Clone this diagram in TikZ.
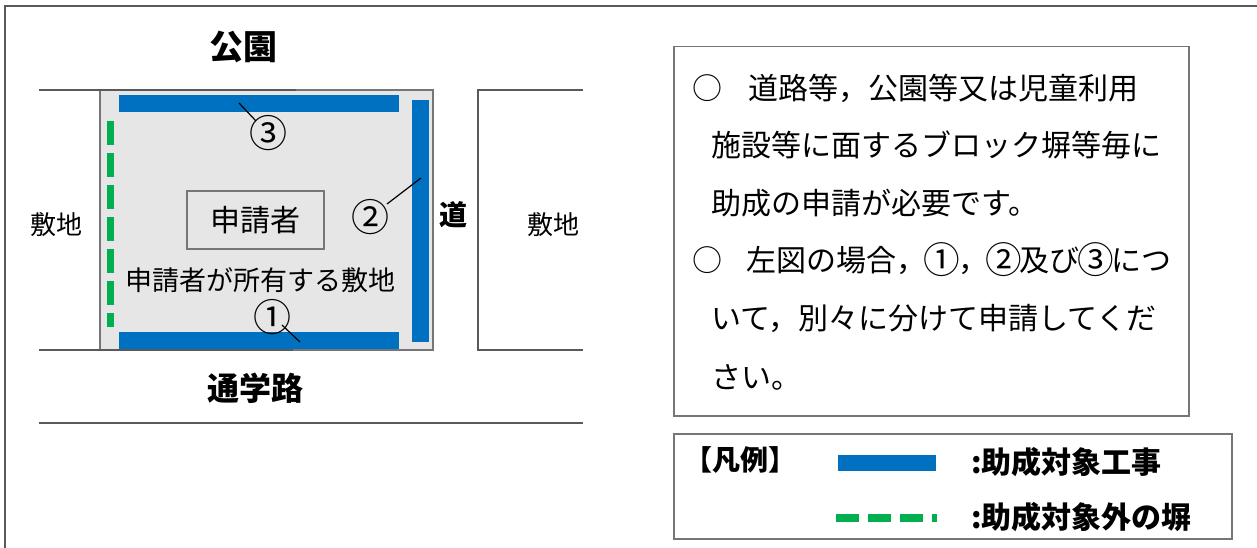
\documentclass[tikz,border=0pt]{standalone}
\usepackage{fontspec}
\usepackage{graphicx}
\usetikzlibrary{calc}
\newfontfamily\jp{Noto Sans CJK JP}
\newcommand\cnum[1]{\makebox[1.06em][c]{\raisebox{-0.08em}{\scalebox{1.22}{#1}}}}
\definecolor{wblue}{HTML}{0070C0}
\definecolor{wgreen}{HTML}{00B050}
\definecolor{lotfill}{HTML}{E7E6E6}
\definecolor{linegray}{HTML}{595959}
\definecolor{boxgray}{HTML}{767676}
\tikzset{
  frameline/.style={draw=linegray, line width=1.2pt},
  roadline/.style={draw=linegray, line width=2.5pt},
  lotbox/.style={fill=lotfill, draw=boxgray, line width=2pt},
  bluebar/.style={fill=wblue},
  greendash/.style={draw=wgreen, line width=7pt, dash pattern=on 24pt off 8pt},
  legdash/.style={draw=wgreen, line width=8pt, dash pattern=on 23pt off 9pt},
  leader/.style={draw=black, line width=1.2pt},
  txt/.style={inner sep=0pt, font=\jp\fontsize{#1}{#1}\selectfont},
  btxt/.style={inner sep=0pt, font=\jp\bfseries\fontsize{#1}{#1}\selectfont},
  textbox/.style={draw=boxgray, line width=1.5pt},
}
\begin{document}
\begin{tikzpicture}[x=1pt, y=-1pt]
\useasboundingbox (0,0) rectangle (1257,548);
% outer frame
\draw[frameline] (5,548) -- (5,6) -- (1257,6);
% lot
\path[lotbox] (100,90) rectangle (433,350);
% roads and neighbouring lots
\draw[roadline] (39,90) -- (296,90);
\draw[roadline] (39,350) -- (293,350);
\draw[roadline] (39,423) -- (583,423);
\draw[roadline] (583,90) -- (478,90) -- (478,350) -- (583,350);
% walls
\path[bluebar] (119,95) rectangle (399,112);
\path[bluebar] (119,332) rectangle (399,349);
\path[bluebar] (412,100) rectangle (429,342);
\draw[greendash] (110.5,121) -- (110.5,327);
% labels
\node[btxt=34] (park) at (243,47) {公園};
\node[btxt=32] (school) at (255,388) {通学路};
\node[btxt=28] (road) at (453,215) {道};
\node[txt=26] (siteL) at (56,225) {敷地};
\node[txt=26] (siteR) at (553,225) {敷地};
\node[txt=30, textbox, minimum width=137pt, minimum height=58pt] (appl) at (255.5,220) {申請者};
\node[txt=27] (own) at (260,280) {申請者が所有する敷地};
% numbers and leaders
\node[txt=38] (n3) at (268,133) {③};
\node[txt=38] (n2) at (370,217) {②};
\node[txt=38] (n1) at (272,317) {①};
\coordinate (l3) at (239,103);
\coordinate (l2) at (421,178);
\coordinate (l1) at (300,342);
\draw[leader] (l3) -- ($(n3)+(-12,-12)$);
\draw[leader] (l2) -- ($(n2)+(17,-13)$);
\draw[leader] (l1) -- ($(n1)+(10,8)$);
% explanation box
\node[textbox, minimum width=515pt, minimum height=369pt, anchor=north west] (expl) at (673,46) {};
\node[txt=30, anchor=base west] (e1) at (692,100) {○\hspace{26pt}道路等，公園等又は児童利用};
\node[txt=30, anchor=base west] (e2) at (711,157) {施設等に面するブロック塀等毎に};
\node[txt=30, anchor=base west] (e3) at (711,214) {助成の申請が必要です。};
\node[txt=30, anchor=base west] (e4) at (692,271) {○\hspace{24pt}左図の場合，\cnum{①}，\cnum{②}及び\cnum{③}につ};
\node[txt=30, anchor=base west] (e5) at (711,329) {いて，別々に分けて申請してくだ};
\node[txt=30, anchor=base west] (e6) at (711,388) {さい。};
% legend
\node[textbox, minimum width=558pt, minimum height=105pt, anchor=north west] (legend) at (673,433) {};
\node[btxt=28] (legt) at (740,460) {【凡例】};
\path[bluebar] (838,455) rectangle (936,471);
\draw[legdash] (836,518) -- (937,518);
\node[btxt=30, anchor=base west] (leg1) at (971,473) {:助成対象工事};
\node[btxt=30, anchor=base west] (leg2) at (971,528) {:助成対象外の塀};
\end{tikzpicture}
\end{document}
